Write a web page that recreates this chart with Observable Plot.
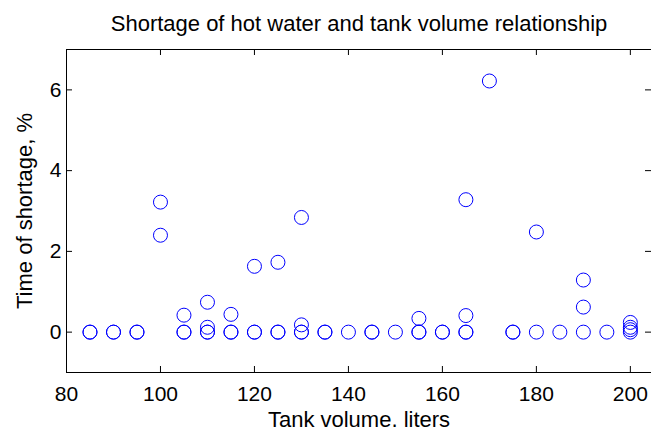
<!DOCTYPE html>
<html><head><meta charset="utf-8">
<script src="https://cdn.jsdelivr.net/npm/d3@7"></script>
<script src="https://cdn.jsdelivr.net/npm/@observablehq/plot@0.6"></script>
<style>html,body{margin:0;padding:0;background:#fff} svg{display:block}</style>
</head><body><div id="chart"></div>
<script>
// Data (tank volume in liters, time of shortage in %)
const volumes  = [85, 85, 90, 90, 95, 95, 100, 100, 105, 105, 105, 110, 110, 110, 110, 115, 115, 115, 120, 120, 120, 125, 125, 125, 130, 130, 130, 130, 135, 135, 140, 145, 145, 150, 155, 155, 155, 160, 160, 165, 165, 165, 165, 170, 175, 175, 180, 180, 185, 190, 190, 190, 195, 200, 200, 200, 200];
const shortage = [0, 0, 0, 0, 0, 0, 3.22, 2.40, 0, 0, 0.42, 0, 0, 0.12, 0.74, 0, 0, 0.44, 0, 0, 1.63, 0, 0, 1.73, 0, 0, 0.18, 2.84, 0, 0, 0, 0, 0, 0, 0, 0, 0.34, 0, 0, 0, 0, 0.41, 3.28, 6.22, 0, 0, 0, 2.48, 0, 0, 0.62, 1.29, 0, 0, 0.06, 0.12, 0.24];
const xTicks = [80, 100, 120, 140, 160, 180, 200];
const yTicks = [0, 2, 4, 6];
const xDomain = [80, 204.5];
const yDomain = [-1, 7];
const titleText = "Shortage of hot water and tank volume relationship";
const xLabel = "Tank volume, liters";
const yLabel = "Time of shortage, %";

const W = 651, H = 427, mL = 66, mT = 49, mR = 0, mB = 55;
const fw = W - mL - mR, fh = H - mT - mB;
const tick = 6;
const points = volumes.map((v, i) => ({v, s: shortage[i]}));
const font = "'Liberation Sans', Arial, Helvetica, sans-serif";

const chart = Plot.plot({
  width: W, height: H,
  marginLeft: mL, marginTop: mT, marginRight: mR, marginBottom: mB,
  style: {fontFamily: font, fontSize: "21px", background: "#fff", color: "#000", overflow: "hidden"},
  x: {domain: xDomain, ticks: xTicks, tickSize: 0, tickPadding: 14, label: null},
  y: {domain: yDomain, ticks: yTicks, tickSize: 0, tickPadding: 5, label: null},
  marks: [
    Plot.ruleY([yDomain[1]], {stroke: "#000"}),
    Plot.ruleY([yDomain[0]], {stroke: "#000"}),
    Plot.ruleX([xDomain[0]], {stroke: "#000"}),
    Plot.ruleX(xTicks, {x: d => d, stroke: "#000", insetTop: fh - tick}),
    Plot.ruleX(xTicks, {x: d => d, stroke: "#000", insetBottom: fh - tick}),
    Plot.ruleY(yTicks, {y: d => d, stroke: "#000", insetRight: fw - tick}),
    Plot.ruleY(yTicks, {y: d => d, stroke: "#000", insetLeft: fw - tick}),
    Plot.dot(points, {x: "v", y: "s", r: 7, stroke: "#0000ff", fill: "none", strokeWidth: 1}),
    Plot.text([titleText], {text: d => d, frameAnchor: "top", lineAnchor: "bottom", dy: -19, fontSize: 22, fill: "#000"}),
    Plot.text([xLabel], {text: d => d, frameAnchor: "bottom", lineAnchor: "bottom", dy: 54, fontSize: 22, fill: "#000"}),
    Plot.text([yLabel], {text: d => d, frameAnchor: "left", textAnchor: "middle", lineAnchor: "bottom", rotate: -90, dx: -35, fontSize: 22, fill: "#000"})
  ]
});
document.getElementById("chart").append(chart);
</script>
</body></html>
